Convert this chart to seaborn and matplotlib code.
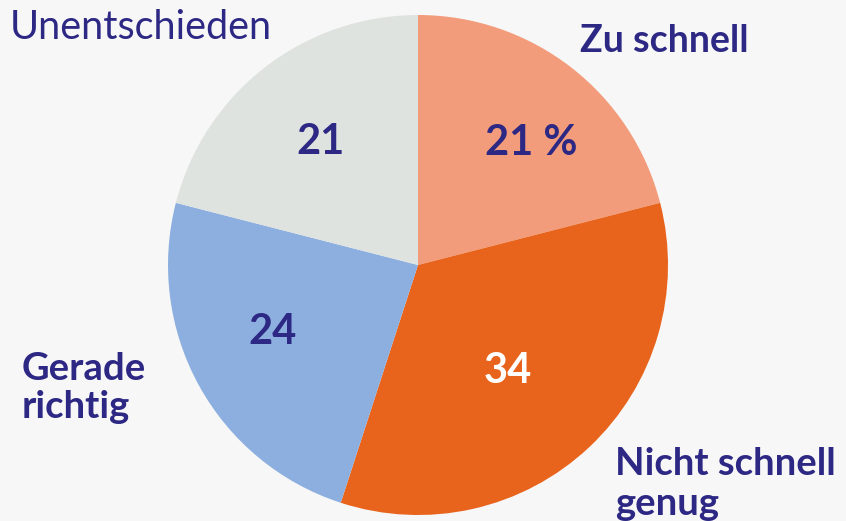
import matplotlib
matplotlib.use("Agg")
import matplotlib.pyplot as plt
import seaborn as sns

categories = ["Zu schnell", "Nicht schnell\ngenug", "Gerade\nrichtig", "Unentschieden"]
values = [21, 34, 24, 21]
value_labels = ["21 %", "34", "24", "21"]
colors = ["#F39C7B", "#E8631B", "#8DAFDF", "#DFE3E0"]

sns.set_theme(style="white")
plt.rcParams["font.family"] = ["Lato", "DejaVu Sans"]

W, H = 846, 521
fig = plt.figure(figsize=(W / 100, H / 100), dpi=100)
fig.patch.set_facecolor("#F7F7F7")
ax = fig.add_axes([0, 0, 1, 1])
ax.set_facecolor("#F7F7F7")

cx, cy, r = 418, H - 265, 250
ax.pie(values, colors=colors, startangle=90, counterclock=False,
       center=(cx, cy), radius=r, frame=True,
       wedgeprops=dict(linewidth=0))
ax.set_xlim(0, W)
ax.set_ylim(0, H)
ax.set_aspect("equal")
ax.axis("off")

txt = "#2D2884"
# numbers inside slices
num_pos = [(531, 143), (508, 371), (272, 332), (320, 142)]
num_col = [txt, "white", txt, txt]
for lab, (x, y), c in zip(value_labels, num_pos, num_col):
    ax.text(x, H - y, lab, ha="center", va="center", fontsize=30,
            fontweight="bold", color=c)

# category labels (one text per line for exact line placement)
ax.text(10, H - 39, categories[3], ha="left", va="baseline", fontsize=28.5,
        fontweight="normal", color=txt)
ax.text(580, H - 52, categories[0], ha="left", va="baseline", fontsize=27,
        fontweight="bold", color=txt)
for i, line in enumerate(categories[1].split("\n")):
    ax.text(615, H - (475 + 40 * i), line, ha="left", va="baseline",
            fontsize=27.5, fontweight="bold", color=txt)
for i, line in enumerate(categories[2].split("\n")):
    ax.text(22, H - (380 + 38 * i), line, ha="left", va="baseline",
            fontsize=27.5, fontweight="bold", color=txt)

fig.savefig("out.png", dpi=100, facecolor=fig.get_facecolor())
